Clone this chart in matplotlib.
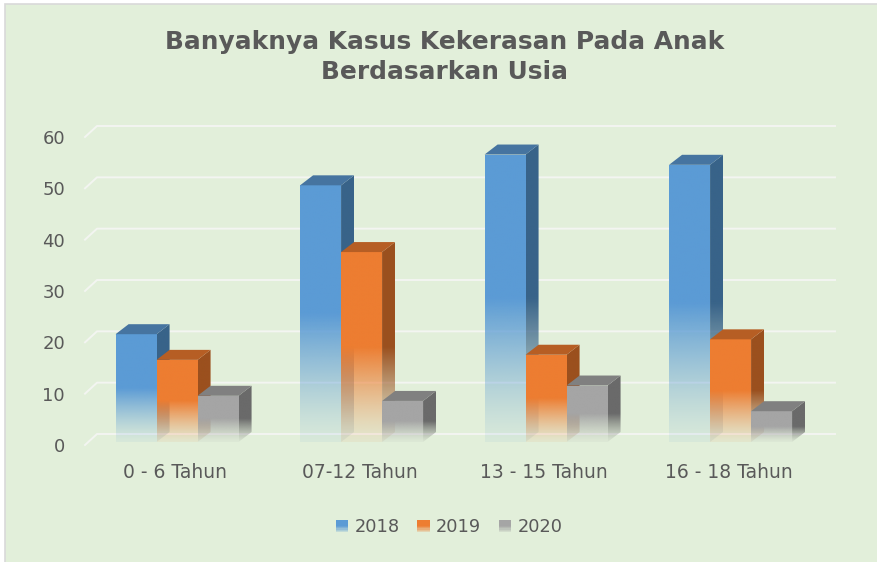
import numpy as np
import matplotlib
matplotlib.use("Agg")
import matplotlib.pyplot as plt
from matplotlib.patches import Polygon, Rectangle, Patch
from matplotlib.legend_handler import HandlerBase
from matplotlib.colors import to_rgb

categories = ["0 - 6 Tahun", "07-12 Tahun", "13 - 15 Tahun", "16 - 18 Tahun"]
series = ["2018", "2019", "2020"]
values_2018 = [21, 50, 56, 54]
values_2019 = [16, 37, 17, 20]
values_2020 = [9, 8, 11, 6]
yticks = [0, 10, 20, 30, 40, 50, 60]

front_colors = ["#5B9BD5", "#ED7D31", "#A5A5A5"]
side_colors = ["#386389", "#9B501E", "#6A6A6A"]
top_colors = ["#4674A0", "#B65E24", "#808080"]
BG = "#E2EFDA"
TXT = "#595959"

W, H = 878, 562
SX, SY = 184.5, 5.133          # px per data unit on the back wall
FDX, FDY = -12 / SX, -11 / SY  # floor front edge offset
DDX, DDY = 13 / SX, 10 / SY    # bar depth offset
BAR_W = 41 / SX
Y0 = -8 / SY                   # front-face bottom of the bars


def face_rgba(color, y_lo, y_hi, yb, yt, n=200, solid=0.5):
    ys = np.linspace(y_lo, y_hi, n)
    t = np.clip((ys - yb) / (yt - yb), 0, 1)
    a = np.where(t >= solid, 1.0, 0.08 + 0.92 * (t / solid) ** 1.3)
    rgba = np.zeros((n, 1, 4))
    rgba[..., :3] = to_rgb(color)
    rgba[..., 3] = a[:, None]
    return rgba


def grad_face(ax, verts, color, yb, yt, z):
    poly = Polygon(verts, closed=True, facecolor="none", edgecolor="none")
    ax.add_patch(poly)
    xs = [p[0] for p in verts]
    ys = [p[1] for p in verts]
    img = face_rgba(color, min(ys), max(ys), yb, yt)
    im = ax.imshow(img, extent=(min(xs), max(xs), min(ys), max(ys)),
                   origin="lower", aspect="auto", interpolation="bilinear", zorder=z)
    im.set_clip_path(poly)


def draw_bar(ax, x, v, j):
    yt = v + Y0
    x1 = x + BAR_W
    z = 3 + j
    grad_face(ax, [(x, Y0), (x1, Y0), (x1, yt), (x, yt)], front_colors[j], Y0, yt, z)
    grad_face(ax, [(x1, Y0), (x1 + DDX, Y0 + DDY), (x1 + DDX, yt + DDY), (x1, yt)],
              side_colors[j], Y0, yt, z)
    ax.add_patch(Polygon([(x, yt), (x1, yt), (x1 + DDX, yt + DDY), (x + DDX, yt + DDY)],
                         closed=True, facecolor=top_colors[j], edgecolor="none", zorder=z))


class GradHandler(HandlerBase):
    def __init__(self, color):
        super().__init__()
        self.color = color

    def create_artists(self, legend, orig, xd, yd, width, height, fontsize, trans):
        arts = []
        n = 10
        for k in range(n):
            t = (k + 0.5) / n
            a = 1.0 if t >= 0.5 else 0.15 + 0.85 * (t / 0.5)
            arts.append(Rectangle((xd, yd + k * height / n), width, height / n,
                                  facecolor=self.color, alpha=a, edgecolor="none",
                                  transform=trans))
        return arts


fig = plt.figure(figsize=(W / 100, H / 100), dpi=100)
fig.patch.set_facecolor("white")
fig.add_artist(Rectangle((5 / W, -0.05), 1.1, 1 - 4 / H + 0.05, transform=fig.transFigure,
                         facecolor=BG, edgecolor="#D9D9D9", lw=1.2, zorder=-10))

bot_px = 434 + 3 * SY
ax = fig.add_axes([97 / W, (H - bot_px) / H, 738 / W, (bot_px - 126) / H])
ax.set_xlim(0, 4)
ax.set_ylim(-3, 60)
ax.set_autoscale_on(False)
ax.set_facecolor("none")
for s in ax.spines.values():
    s.set_visible(False)

for v in yticks:
    ax.plot([FDX, 0, 4], [v + FDY, v, v], color="#F3F5F1", lw=1.4, clip_on=False, zorder=1)

centers = np.arange(len(categories)) + 0.434
all_vals = [values_2018, values_2019, values_2020]
for i, c in enumerate(centers):
    for j, vals in enumerate(all_vals):
        draw_bar(ax, c - 1.5 * BAR_W + j * BAR_W, vals[i], j)

ax.set_xticks(centers - 0.01, categories)
ax.tick_params(axis="x", length=0, pad=10, labelsize=13.5, labelcolor=TXT)
ax.set_yticks(np.array(yticks) + FDY, [str(v) for v in yticks])
ax.tick_params(axis="y", length=0, pad=23, labelsize=13, labelcolor=TXT)

fig.text(445 / W, 1 - 57 / H, "Banyaknya Kasus Kekerasan Pada Anak\nBerdasarkan Usia",
         ha="center", va="center", fontsize=17.9, fontweight="bold", color=TXT,
         linespacing=1.32)

handles = [Patch(facecolor=c) for c in front_colors]
fig.legend(handles, series, loc="center", bbox_to_anchor=(449 / W, 1 - 527 / H), ncol=3,
           frameon=False, fontsize=12.8, labelcolor=TXT, handlelength=0.7,
           handleheight=0.7, handletextpad=0.35, columnspacing=1.0,
           handler_map={h: GradHandler(c) for h, c in zip(handles, front_colors)})

fig.savefig("out.png", dpi=100)
